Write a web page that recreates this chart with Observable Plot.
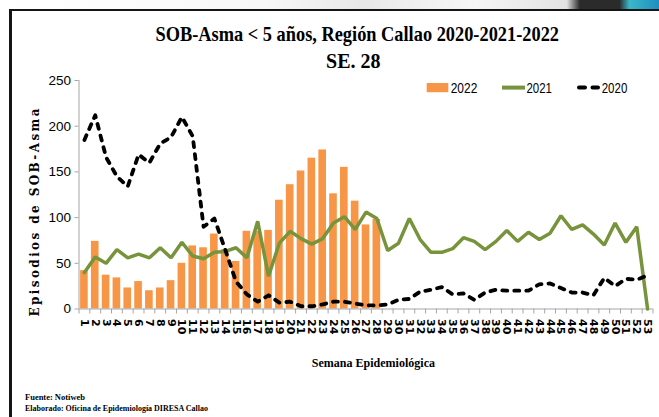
<!DOCTYPE html>
<html>
<head>
<meta charset="utf-8">
<script src="https://cdn.jsdelivr.net/npm/d3@7"></script>
<script src="https://cdn.jsdelivr.net/npm/@observablehq/plot@0.6"></script>
<style>
  html, body { margin: 0; padding: 0; background: #fff; }
  #wrap { position: relative; width: 659px; height: 417px; overflow: hidden; background: #fff; }
  #topstrip { position: absolute; left: 0; top: 0; width: 659px; height: 10px;
    background: linear-gradient(to right, #ffffff 0%, #f8f8f8 40%, #e8e8e8 55%, #f6f6f6 72%, #e2e2e2 86%, #2b2b2b 88%, #2b2b2b 94%, #3ab7c8 95.5%, #1f8ec0 100%); }
  #frame { position: absolute; left: 8.5px; top: 9px; width: 700px; height: 500px;
    border-left: 3px solid #151515; border-top: 2.5px solid #151515; box-sizing: border-box; background: #fff; }
  #plot { position: absolute; left: 0; top: 0; }
  #overlay { position: absolute; left: 0; top: 0; }
</style>
</head>
<body>
<div id="wrap">
  <div id="topstrip"></div>
  <div id="frame"></div>
  <div id="plot"></div>
  <svg id="overlay" width="659" height="417" xmlns="http://www.w3.org/2000/svg"></svg>
</div>
<script>
// ---- Data ----
const weeks = [1,2,3,4,5,6,7,8,9,10,11,12,13,14,15,16,17,18,19,20,21,22,23,24,25,26,27,28,29,30,31,32,33,34,35,36,37,38,39,40,41,42,43,44,45,46,47,48,49,50,51,52,53];
const series2022 = [42,74,37,34,23,30,20,23,31,50,69,67,82,65,52,85,85,86,119,136,151,165,174,126,155,118,92,98];
const series2021 = [40,57,50,65,56,60,56,67,56,73,58,55,62,63,67,56,96,36,72,85,77,71,77,94,101,87,106,99,64,72,99,76,62,62,66,78,74,65,74,86,74,84,76,83,102,87,92,82,70,94,73,90,0];
const series2020 = [185,212,166,145,134,169,160,181,188,210,189,90,99,65,30,16,8,15,7,8,3,3,5,8,8,6,4,4,5,10,11,19,21,24,16,17,10,18,21,20,20,20,27,28,23,18,18,15,34,25,33,32,37];
const yTicks = [0,50,100,150,200,250];
const legendLabels = ["2022","2021","2020"];
const titleText = "SOB-Asma < 5 años, Región Callao 2020-2021-2022";
const subtitleText = "SE. 28";
const yTitle = "Episodios de SOB-Asma";
const xTitle = "Semana Epidemiológica";
const sourceText = "Fuente: Notiweb";
const madeByText = "Elaborado: Oficina de Epidemiología DIRESA Callao";

const COL22 = "#F79646", COL21 = "#77933C", COL20 = "#000000", AXIS = "#a6a6a6";

const bars = series2022.map((v, i) => ({w: weeks[i], v}));
const lines = weeks.map((w, i) => ({w, v21: series2021[i], v20: series2020[i]}));
const boundaries = [0.5].concat(weeks.map(w => w + 0.5));

const chart = Plot.plot({
  width: 659,
  height: 345,
  marginLeft: 78.5,
  marginRight: 6.5,
  marginTop: 80,
  marginBottom: 36.5,
  style: {background: "transparent", color: "#000", overflow: "visible"},
  x: {domain: [0.5, 53.5], axis: null},
  y: {domain: [0, 250], axis: null},
  marks: [
    Plot.rectY(bars, {x1: d => d.w - 0.5, x2: d => d.w + 0.5, y: "v", fill: COL22, insetLeft: 1.6, insetRight: 1.6}),
    Plot.ruleY([0], {stroke: AXIS, strokeWidth: 1}),
    Plot.ruleX([0.5], {y1: 0, y2: 250, stroke: AXIS, strokeWidth: 1}),
    Plot.axisY({ticks: yTicks, tickSize: 4, tickPadding: 4, stroke: AXIS,
      fontSize: 13.5, fontFamily: "'Liberation Sans Narrow', 'Arial Narrow', 'Liberation Sans', sans-serif", label: null}),
    Plot.axisX({ticks: boundaries, tickFormat: () => "", tickSize: 5, stroke: AXIS, label: null}),
    Plot.axisX({ticks: weeks, tickSize: 0, tickPadding: 10, tickRotate: 90, tickFormat: d => String(d),
      fontSize: 11, fontWeight: "bold", fontFamily: "'DejaVu Sans', sans-serif", label: null}),
    Plot.lineY(lines, {x: "w", y: "v21", stroke: COL21, strokeWidth: 3.5, strokeLinejoin: "miter"}),
    Plot.lineY(lines, {x: "w", y: "v20", stroke: COL20, strokeWidth: 3.8, strokeDasharray: "5,7", strokeLinecap: "round"})
  ]
});
document.getElementById("plot").appendChild(chart);

// ---- Titles, legend, notes ----
const ov = d3.select("#overlay");
function txt(t, x, y, opts) {
  const el = ov.append("text").attr("x", x).attr("y", y).text(t)
    .attr("font-family", opts.family).attr("font-size", opts.size)
    .attr("font-weight", opts.weight || "normal").attr("fill", opts.fill || "#000");
  if (opts.len) el.attr("textLength", opts.len).attr("lengthAdjust", opts.adjust || "spacingAndGlyphs");
  if (opts.transform) el.attr("transform", opts.transform);
  if (opts.anchor) el.attr("text-anchor", opts.anchor);
  return el;
}
const SERIF = "'Liberation Serif', 'DejaVu Serif', serif";
const NARROW = "'Liberation Sans Narrow', 'Liberation Sans', sans-serif";
txt(titleText, 155.5, 40.7, {family: SERIF, size: 22, weight: "bold", len: 403.5});
txt(subtitleText, 326, 68.3, {family: SERIF, size: 22, weight: "bold", len: 54.5});
txt(xTitle, 311.7, 366.7, {family: SERIF, size: 12.5, weight: "bold", len: 123.3});
txt(sourceText, 25, 399.5, {family: SERIF, size: 9, weight: "bold", len: 60});
txt(madeByText, 25, 411, {family: SERIF, size: 9, weight: "bold", len: 183});
txt(yTitle, 0, 0, {family: "'DejaVu Serif', serif", size: 12, weight: "bold", len: 208, adjust: "spacing",
  transform: "translate(38.5,316.5) rotate(-90)"});

// legend
ov.append("rect").attr("x", 426.7).attr("y", 83).attr("width", 21.6).attr("height", 9.2).attr("fill", COL22);
txt(legendLabels[0], 450.7, 92.6, {family: NARROW, size: 15, len: 26.6});
ov.append("line").attr("x1", 502).attr("x2", 525).attr("y1", 87.6).attr("y2", 87.6)
  .attr("stroke", COL21).attr("stroke-width", 4);
txt(legendLabels[1], 526.5, 92.6, {family: NARROW, size: 15, len: 25.5});
ov.append("line").attr("x1", 579).attr("x2", 598).attr("y1", 87.6).attr("y2", 87.6)
  .attr("stroke", COL20).attr("stroke-width", 4).attr("stroke-dasharray", "6,7.5").attr("stroke-linecap", "round");
txt(legendLabels[2], 601.7, 92.6, {family: NARROW, size: 15, len: 25.6});
</script>
</body>
</html>
